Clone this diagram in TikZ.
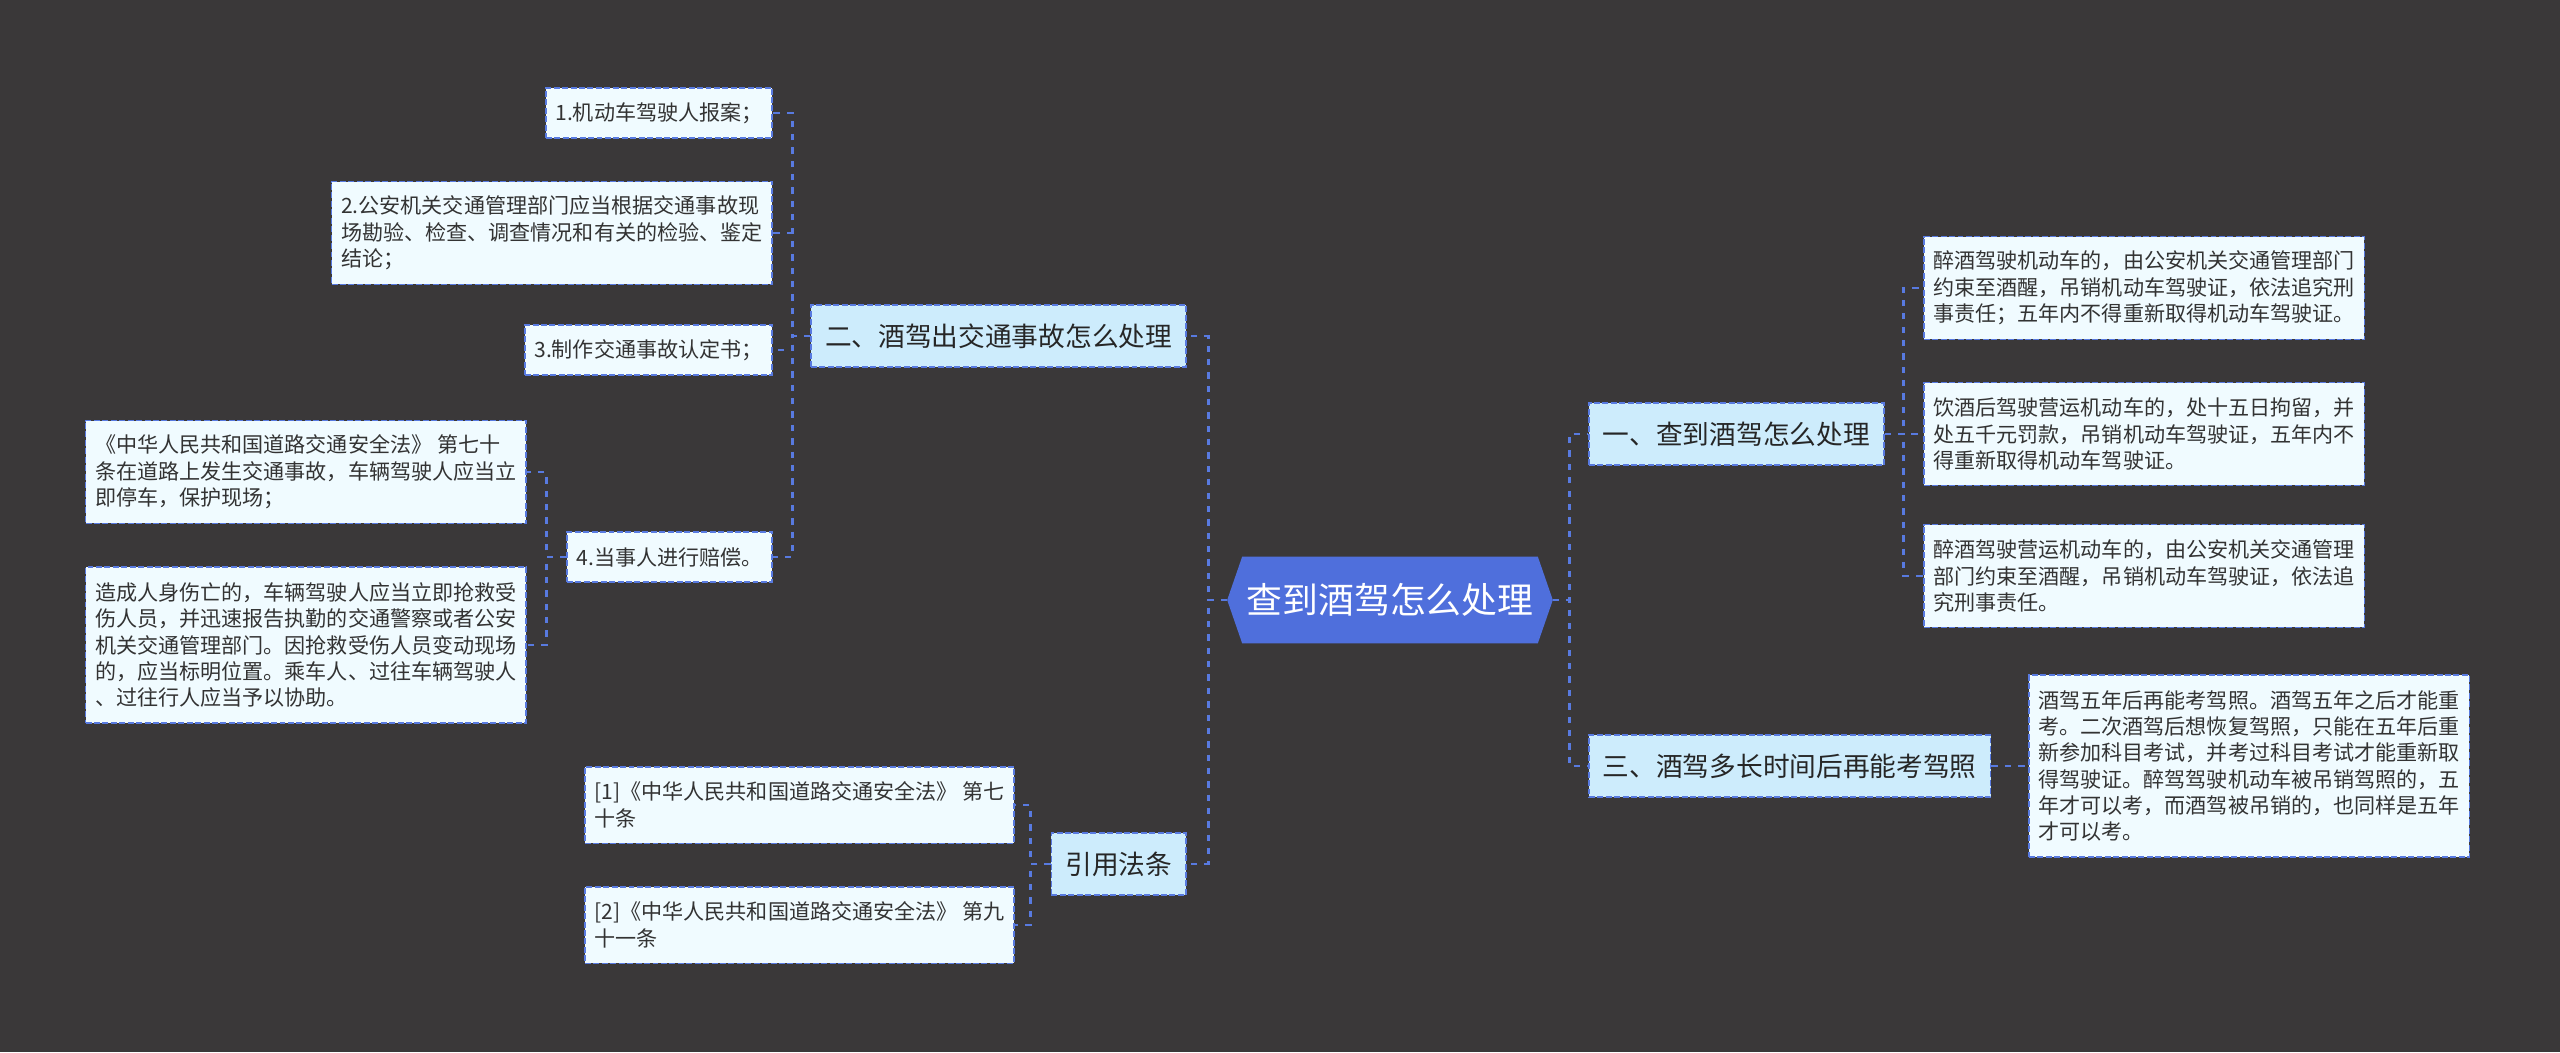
\documentclass[tikz,border=0pt]{standalone}
\usepackage{fontspec}
\setmainfont{Noto Sans CJK SC}
\usepackage{tikz}
\usetikzlibrary{positioning,backgrounds}
\definecolor{bgdark}{RGB}{58,56,57}
\definecolor{rootblue}{RGB}{79,111,220}
\definecolor{topicblue}{RGB}{205,236,252}
\definecolor{leafwhite}{RGB}{240,251,255}
\definecolor{linkblue}{RGB}{88,122,224}
\definecolor{textgray}{RGB}{51,51,51}

\begin{document}
\begin{tikzpicture}[x=0.02cm, y=-0.02cm,
        root/.style={rectangle, minimum width=6.5cm, minimum height=1.72cm, inner sep=0pt, text=white, font=\fontsize{20.4pt}{24pt}\selectfont},
        boxline/.style={draw=linkblue, line width=0.9pt, dash pattern=on 3.4pt off 1.4pt},
        topic/.style={rectangle, boxline, fill=topicblue, text=black!85, inner xsep=0.28cm, minimum height=1.24cm, font=\fontsize{15.2pt}{18pt}\selectfont},
        leaf/.style={rectangle, boxline, fill=leafwhite, text=textgray, align=left, inner xsep=0.19cm, inner ysep=0.1cm, font=\fontsize{12pt}{15pt}\selectfont},
        nlines/.style={minimum height={(0.48+0.526*#1)*1cm}},
        link/.style={draw=linkblue, line width=1.6pt, dash pattern=on 3.6pt off 4pt}
    ]
        \begin{scope}[on background layer]
            \fill[bgdark] (0,0) rectangle (2560,1052);
        \end{scope}
        \useasboundingbox (0,0) rectangle (2560,1052);

        % main topic
        \node[root] (root) at (1390,600) {查到酒驾怎么处理};
        \begin{scope}[on background layer]
            \fill[rootblue] (root.west) -- ([xshift=0.3cm]root.north west) -- ([xshift=-0.3cm]root.north east) -- (root.east) -- ([xshift=-0.3cm]root.south east) -- ([xshift=0.3cm]root.south west) -- cycle;
        \end{scope}

        % right side
        \node[topic, anchor=west] (t1) at (1588,434) {一、查到酒驾怎么处理};
        \node[topic, anchor=west] (t3) at (1588,766) {三、酒驾多长时间后再能考驾照};
        \node[leaf, nlines=3, anchor=west] (t1a) at (1923,288) {醉酒驾驶机动车的，由公安机关交通管理部门\\约束至酒醒，吊销机动车驾驶证，依法追究刑\\事责任；五年内不得重新取得机动车驾驶证。};
        \node[leaf, nlines=3, anchor=west] (t1b) at (1923,434) {饮酒后驾驶营运机动车的，处十五日拘留，并\\处五千元罚款，吊销机动车驾驶证，五年内不\\得重新取得机动车驾驶证。};
        \node[leaf, nlines=3, anchor=west] (t1c) at (1923,576) {醉酒驾驶营运机动车的，由公安机关交通管理\\部门约束至酒醒，吊销机动车驾驶证，依法追\\究刑事责任。};
        \node[leaf, nlines=6, anchor=west] (t3a) at (2028,766) {酒驾五年后再能考驾照。酒驾五年之后才能重\\考。二次酒驾后想恢复驾照，只能在五年后重\\新参加科目考试，并考过科目考试才能重新取\\得驾驶证。醉驾驾驶机动车被吊销驾照的，五\\年才可以考，而酒驾被吊销的，也同样是五年\\才可以考。};

        % left side
        \node[topic, anchor=east] (t2) at (1187,336) {二、酒驾出交通事故怎么处理};
        \node[topic, anchor=east] (t4) at (1187,864) {引用法条};
        \node[leaf, nlines=1, anchor=east] (t2a) at (773,113) {1.机动车驾驶人报案；};
        \node[leaf, nlines=3, anchor=east] (t2b) at (773,233) {2.公安机关交通管理部门应当根据交通事故现\\场勘验、检查、调查情况和有关的检验、鉴定\\结论；};
        \node[leaf, nlines=1, anchor=east] (t2c) at (773,350) {3.制作交通事故认定书；};
        \node[leaf, nlines=1, anchor=east] (t2d) at (773,557) {4.当事人进行赔偿。};
        \node[leaf, nlines=3, anchor=east] (t2d1) at (527,472) {《中华人民共和国道路交通安全法》 第七十\\条在道路上发生交通事故，车辆驾驶人应当立\\即停车，保护现场；};
        \node[leaf, nlines=5, anchor=east] (t2d2) at (527,645) {造成人身伤亡的，车辆驾驶人应当立即抢救受\\伤人员，并迅速报告执勤的交通警察或者公安\\机关交通管理部门。因抢救受伤人员变动现场\\的，应当标明位置。乘车人、过往车辆驾驶人\\、过往行人应当予以协助。};
        \node[leaf, nlines=2, anchor=east] (t4a) at (1015,805) {[1]《中华人民共和国道路交通安全法》 第七\\十条};
        \node[leaf, nlines=2, anchor=east] (t4b) at (1015,925) {[2]《中华人民共和国道路交通安全法》 第九\\十一条};

        % links
        \draw[link] (root.east) -- ++(17,0) |- (t1.west);
        \draw[link] (root.east) -- ++(17,0) |- (t3.west);
        \draw[link] (root.west) -- ++(-19,0) |- (t2.east);
        \draw[link] (root.west) -- ++(-19,0) |- (t4.east);
        \foreach \leaf in {t1a,t1b,t1c}
            \draw[link] (t1.east) -- ++(19,0) |- (\leaf.west);
        \draw[link] (t3.east) -- (t3a.west);
        \foreach \leaf in {t2a,t2b,t2c,t2d}
            \draw[link] (t2.west) -- ++(-18,0) |- (\leaf.east);
        \foreach \leaf in {t2d1,t2d2}
            \draw[link] (t2d.west) -- ++(-20,0) |- (\leaf.east);
        \foreach \leaf in {t4a,t4b}
            \draw[link] (t4.west) -- ++(-20,0) |- (\leaf.east);

    \end{tikzpicture}
\end{document}
